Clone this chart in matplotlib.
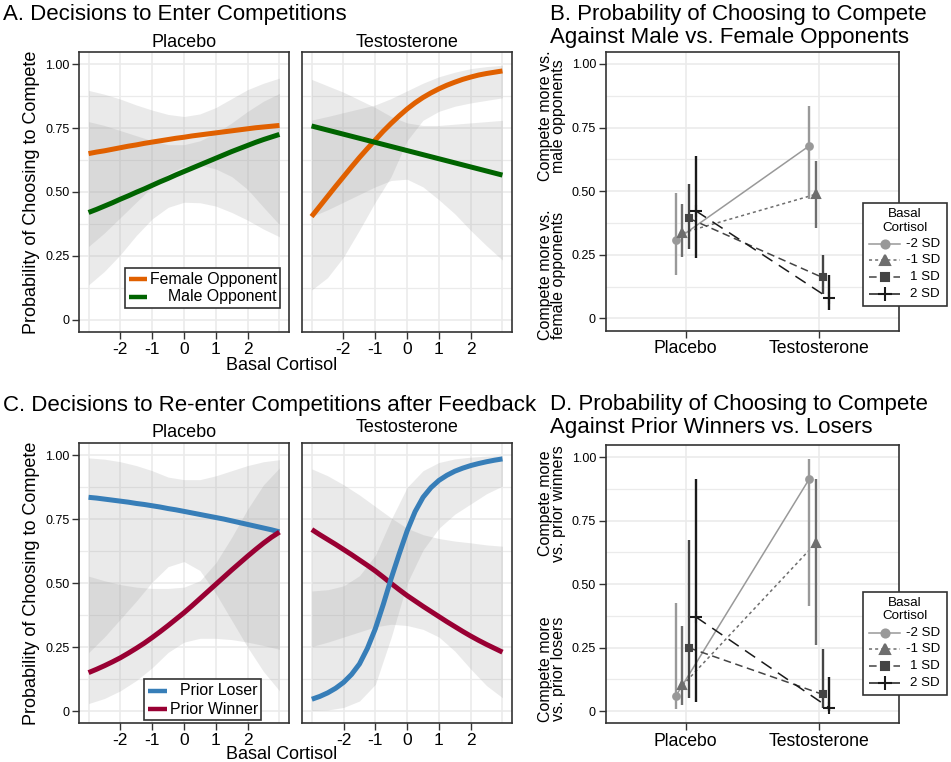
import matplotlib
matplotlib.use('Agg')
import matplotlib.pyplot as plt
import numpy as np
from matplotlib.patches import Rectangle
from matplotlib.lines import Line2D

plt.rcParams['font.family'] = ['Liberation Sans', 'DejaVu Sans']

# ---- data ----
# confidence bands are read every 0.5 SD, fitted lines every 0.25 SD
cortisol = [-3, -2.5, -2, -1.5, -1, -0.5, 0, 0.5, 1, 1.5, 2, 2.5, 3]
cortisol_fine = [-3, -2.75, -2.5, -2.25, -2, -1.75, -1.5, -1.25, -1, -0.75, -0.5, -0.25,
                 0, 0.25, 0.5, 0.75, 1, 1.25, 1.5, 1.75, 2, 2.25, 2.5, 2.75, 3]

# A, placebo
a_pla_female = [0.650, 0.656, 0.661, 0.667, 0.673, 0.679, 0.684, 0.690, 0.695, 0.700, 0.705, 0.710,
                0.714, 0.719, 0.723, 0.727, 0.731, 0.735, 0.739, 0.743, 0.747, 0.751, 0.754, 0.757, 0.760]
a_pla_female_lo = [0.287, 0.34, 0.40, 0.46, 0.52, 0.57, 0.60, 0.605, 0.59, 0.56, 0.51, 0.44, 0.372]
a_pla_female_hi = [0.897, 0.882, 0.863, 0.84, 0.82, 0.803, 0.795, 0.805, 0.83, 0.865, 0.90, 0.925, 0.945]
a_pla_male = [0.420, 0.432, 0.445, 0.458, 0.472, 0.485, 0.499, 0.512, 0.526, 0.540, 0.553, 0.567,
              0.580, 0.593, 0.606, 0.619, 0.632, 0.645, 0.658, 0.670, 0.682, 0.694, 0.705, 0.715, 0.725]
a_pla_male_lo = [0.137, 0.19, 0.255, 0.33, 0.395, 0.44, 0.46, 0.458, 0.445, 0.42, 0.39, 0.355, 0.325]
a_pla_male_hi = [0.775, 0.76, 0.74, 0.72, 0.70, 0.685, 0.685, 0.70, 0.73, 0.77, 0.815, 0.855, 0.885]

# A, testosterone
a_tes_female = [0.404, 0.443, 0.482, 0.521, 0.559, 0.597, 0.634, 0.669, 0.703, 0.737, 0.768, 0.797,
                0.824, 0.848, 0.869, 0.887, 0.903, 0.917, 0.929, 0.940, 0.949, 0.957, 0.963, 0.968, 0.973]
a_tes_female_lo = [0.117, 0.165, 0.245, 0.35, 0.46, 0.56, 0.70, 0.78, 0.815, 0.835, 0.848, 0.858, 0.868]
a_tes_female_hi = [0.781, 0.795, 0.81, 0.825, 0.84, 0.865, 0.895, 0.925, 0.95, 0.968, 0.982, 0.99, 0.995]
a_tes_male = [0.758, 0.750, 0.742, 0.734, 0.726, 0.718, 0.710, 0.702, 0.694, 0.686, 0.678, 0.670,
              0.662, 0.654, 0.646, 0.638, 0.630, 0.622, 0.614, 0.606, 0.598, 0.590, 0.582, 0.574, 0.566]
a_tes_male_lo = [0.404, 0.43, 0.46, 0.49, 0.52, 0.545, 0.55, 0.52, 0.47, 0.415, 0.35, 0.29, 0.234]
a_tes_male_hi = [0.94, 0.915, 0.89, 0.86, 0.83, 0.795, 0.77, 0.76, 0.76, 0.765, 0.77, 0.775, 0.78]

# C, placebo
c_pla_loser = [0.836, 0.833, 0.829, 0.825, 0.821, 0.817, 0.812, 0.808, 0.803, 0.798, 0.792, 0.787,
               0.781, 0.775, 0.769, 0.763, 0.757, 0.751, 0.744, 0.737, 0.730, 0.723, 0.716, 0.709, 0.701]
c_pla_loser_lo = [0.229, 0.29, 0.36, 0.43, 0.505, 0.565, 0.585, 0.55, 0.46, 0.355, 0.25, 0.155, 0.08]
c_pla_loser_hi = [0.99, 0.985, 0.975, 0.96, 0.94, 0.915, 0.905, 0.905, 0.92, 0.94, 0.96, 0.975, 0.983]
c_pla_winner = [0.151, 0.164, 0.178, 0.193, 0.209, 0.227, 0.246, 0.266, 0.288, 0.311, 0.335, 0.360,
                0.385, 0.412, 0.440, 0.468, 0.496, 0.524, 0.552, 0.579, 0.606, 0.632, 0.657, 0.680, 0.700]
c_pla_winner_lo = [0.03, 0.05, 0.08, 0.12, 0.17, 0.23, 0.27, 0.285, 0.285, 0.28, 0.27, 0.257, 0.242]
c_pla_winner_hi = [0.528, 0.51, 0.495, 0.485, 0.48, 0.48, 0.485, 0.51, 0.58, 0.68, 0.79, 0.885, 0.951]

# C, testosterone
c_tes_loser = [0.047, 0.058, 0.072, 0.090, 0.113, 0.144, 0.185, 0.246, 0.323, 0.418, 0.520, 0.615,
               0.705, 0.780, 0.836, 0.874, 0.902, 0.922, 0.938, 0.950, 0.960, 0.968, 0.975, 0.981, 0.986]
c_tes_loser_lo = [0.003, 0.005, 0.015, 0.04, 0.105, 0.29, 0.5, 0.63, 0.715, 0.77, 0.81, 0.85, 0.88]
c_tes_loser_hi = [0.47, 0.475, 0.49, 0.53, 0.61, 0.75, 0.875, 0.94, 0.972, 0.986, 0.993, 0.997, 0.999]
c_tes_winner = [0.710, 0.690, 0.671, 0.652, 0.632, 0.612, 0.591, 0.570, 0.548, 0.524, 0.499, 0.475,
                0.452, 0.431, 0.410, 0.390, 0.370, 0.350, 0.331, 0.312, 0.294, 0.277, 0.261, 0.246, 0.231]
c_tes_winner_lo = [0.253, 0.27, 0.29, 0.31, 0.33, 0.34, 0.335, 0.32, 0.29, 0.235, 0.165, 0.1, 0.053]
c_tes_winner_hi = [0.947, 0.92, 0.885, 0.845, 0.80, 0.755, 0.715, 0.69, 0.675, 0.665, 0.658, 0.65, 0.645]

# B / D, point estimates per basal cortisol level
sd_levels = ['-2 SD', '-1 SD', '1 SD', '2 SD']
conditions = ['Placebo', 'Testosterone']

b_placebo = [0.308, 0.336, 0.393, 0.423]
b_placebo_lo = [0.170, 0.240, 0.271, 0.236]
b_placebo_hi = [0.491, 0.449, 0.530, 0.639]
b_testo = [0.678, 0.488, 0.161, 0.079]
b_testo_lo = [0.471, 0.354, 0.095, 0.035]
b_testo_hi = [0.834, 0.618, 0.249, 0.170]

d_placebo = [0.059, 0.101, 0.249, 0.371]
d_placebo_lo = [0.007, 0.026, 0.053, 0.035]
d_placebo_hi = [0.426, 0.334, 0.675, 0.914]
d_testo = [0.914, 0.662, 0.066, 0.013]
d_testo_lo = [0.413, 0.262, 0.013, 0.002]
d_testo_hi = [0.994, 0.915, 0.243, 0.134]

# ---- styles ----
W, H = 951, 762
GRID = '#EBEBEB'
FRAME = '#333333'
BAND = '#999999'
ORANGE = '#E06000'
GREEN = '#006400'
BLUE = '#377EB8'
RED = '#990033'
SD_COLORS = ['#999999', '#6E6E6E', '#444444', '#1A1A1A']
SD_MARKERS = ['o', '^', 's', '+']
SD_MS = [4.8, 6.0, 4.8, 9.0]
SD_LS = ['-', (0, (2, 2)), (0, (5, 3)), (0, (8, 5))]
DODGE = [-0.075, -0.025, 0.025, 0.075]


def box(x0, y0, x1, y1):
    return [x0 / W, 1 - y1 / H, (x1 - x0) / W, (y1 - y0) / H]


def fx(x):
    return x / W


def fy(y):
    return 1 - y / H


def frame(ax):
    for s in ax.spines.values():
        s.set_color(FRAME)
        s.set_linewidth(1.2)
    ax.tick_params(direction='out', length=5, width=1.0, color=FRAME,
                   pad=2, labelcolor='black')


def facet(ax, title, pad, first):
    ax.set_xlim(-3.3, 3.3)
    ax.set_ylim(-0.047, 1.047)
    for g in range(-3, 4):
        ax.axvline(g, color=GRID, lw=1.2, zorder=0)
    for g in np.arange(0, 1.01, 0.125):
        ax.axhline(g, color=GRID, lw=1.2 if g % 0.25 == 0 else 0.9, zorder=0)
    ax.set_xticks([-2, -1, 0, 1, 2])
    ax.set_xticklabels(['-2', '-1', '0', '1', '2'], fontsize=12.5)
    if first:
        ax.set_yticks([0, 0.25, 0.5, 0.75, 1.0])
        ax.set_yticklabels(['0', '0.25', '0.50', '0.75', '1.00'], fontsize=9)
    else:
        ax.set_yticks([])
    frame(ax)
    ax.set_title(title, fontsize=13, pad=pad)


def smooth(ax, bands, lines):
    for lo, hi in bands:
        ax.fill_between(cortisol, lo, hi, color=BAND, alpha=0.2, lw=0, zorder=1)
    for vals, col in lines:
        ax.plot(cortisol_fine, vals, color=col, lw=3.6, zorder=3,
                solid_capstyle='butt', solid_joinstyle='round')


def contrast(ax, pla, pla_lo, pla_hi, tes, tes_lo, tes_hi):
    ax.set_xlim(0.4, 2.6)
    ax.set_ylim(-0.048, 1.048)
    for g in [1, 2]:
        ax.axvline(g, color=GRID, lw=1.2, zorder=0)
    for g in np.arange(0, 1.01, 0.125):
        ax.axhline(g, color=GRID, lw=1.2 if g % 0.25 == 0 else 0.9, zorder=0)
    for i in range(len(sd_levels)):
        xs = [1 + DODGE[i], 2 + DODGE[i]]
        ys = [pla[i], tes[i]]
        ax.plot(xs, ys, color=SD_COLORS[i], lw=1.1, ls=SD_LS[i], zorder=2)
        ax.vlines(xs, [pla_lo[i], tes_lo[i]], [pla_hi[i], tes_hi[i]],
                  color=SD_COLORS[i], lw=1.7, zorder=3)
        ax.plot(xs, ys, ls='none', marker=SD_MARKERS[i], ms=SD_MS[i],
                color=SD_COLORS[i], mew=1.5, zorder=4)
    ax.set_xticks([1, 2])
    ax.set_xticklabels(conditions, fontsize=12.7)
    ax.set_yticks([0, 0.25, 0.5, 0.75, 1.0])
    ax.set_yticklabels(['0', '0.25', '0.50', '0.75', '1.00'], fontsize=9)
    frame(ax)


def key_legend(x0, y0, x1, y1, entries, key_x, text_x):
    fig.add_artist(Rectangle((fx(x0), fy(y1)), (x1 - x0) / W, (y1 - y0) / H,
                             transform=fig.transFigure, facecolor='white',
                             edgecolor=FRAME, lw=1.2, zorder=5))
    for label, col, y in entries:
        fig.add_artist(Line2D([fx(key_x[0]), fx(key_x[1])], [fy(y), fy(y)],
                              transform=fig.transFigure, color=col, lw=3.2,
                              solid_capstyle='butt', zorder=6))
        fig.text(fx(text_x), fy(y), label, ha='right', va='center',
                 fontsize=11.4, zorder=7)


def sd_legend(y0, y1, title_ys, entry_ys):
    x0, x1 = 863.3, 947.3
    fig.add_artist(Rectangle((fx(x0), fy(y1)), (x1 - x0) / W, (y1 - y0) / H,
                             transform=fig.transFigure, facecolor='white',
                             edgecolor=FRAME, lw=1.2, zorder=5))
    for t, y in zip(['Basal', 'Cortisol'], title_ys):
        fig.text(fx(905), fy(y), t, ha='center', va='center', fontsize=9.6, zorder=7)
    for i, y in enumerate(entry_ys):
        fig.add_artist(Line2D([fx(869.3), fx(900)], [fy(y), fy(y)],
                              transform=fig.transFigure, color=SD_COLORS[i],
                              lw=1.1, ls=SD_LS[i], zorder=6))
        fig.add_artist(Line2D([fx(884.7)], [fy(y)], transform=fig.transFigure,
                              ls='none', marker=SD_MARKERS[i], ms=SD_MS[i] + 1,
                              color=SD_COLORS[i], mew=1.5, zorder=6))
        fig.text(fx(940), fy(y), sd_levels[i], ha='right', va='center',
                 fontsize=9.6, zorder=7)


fig = plt.figure(figsize=(W / 100, H / 100), dpi=100)

# ---- panel A ----
ax = fig.add_axes(box(79, 52, 289, 332))
facet(ax, 'Placebo', 3.8, True)
smooth(ax, [(a_pla_female_lo, a_pla_female_hi), (a_pla_male_lo, a_pla_male_hi)],
       [(a_pla_female, ORANGE), (a_pla_male, GREEN)])
ax = fig.add_axes(box(302, 52, 512, 332))
facet(ax, 'Testosterone', 3.8, False)
smooth(ax, [(a_tes_female_lo, a_tes_female_hi), (a_tes_male_lo, a_tes_male_hi)],
       [(a_tes_female, ORANGE), (a_tes_male, GREEN)])

key_legend(125, 268, 280, 308,
           [('Female Opponent', ORANGE, 279.3), ('Male Opponent', GREEN, 296.7)],
           (129, 147), 277)

fig.text(fx(3), fy(20), 'A. Decisions to Enter Competitions', fontsize=16, va='baseline')
fig.text(fx(31.5), fy(192), 'Probability of Choosing to Compete', rotation=90,
         ha='center', va='center', fontsize=13)
fig.text(fx(282), fy(370), 'Basal Cortisol', ha='center', va='baseline', fontsize=13)

# ---- panel C ----
ax = fig.add_axes(box(79, 443.3, 289, 723.3))
facet(ax, 'Placebo', 4.8, True)
smooth(ax, [(c_pla_loser_lo, c_pla_loser_hi), (c_pla_winner_lo, c_pla_winner_hi)],
       [(c_pla_loser, BLUE), (c_pla_winner, RED)])
ax = fig.add_axes(box(302.3, 443.3, 512, 723.3))
facet(ax, 'Testosterone', 8.4, False)
smooth(ax, [(c_tes_loser_lo, c_tes_loser_hi), (c_tes_winner_lo, c_tes_winner_hi)],
       [(c_tes_winner, RED), (c_tes_loser, BLUE)])

key_legend(144, 679.3, 260.7, 720,
           [('Prior Loser', BLUE, 690.7), ('Prior Winner', RED, 709)],
           (148, 167), 258)

fig.text(fx(3), fy(410.7), 'C. Decisions to Re-enter Competitions after Feedback',
         fontsize=16, va='baseline')
fig.text(fx(31.5), fy(583), 'Probability of Choosing to Compete', rotation=90,
         ha='center', va='center', fontsize=13)
fig.text(fx(282), fy(759), 'Basal Cortisol', ha='center', va='baseline', fontsize=13)

# ---- panel B ----
ax = fig.add_axes(box(605.7, 51.7, 899.3, 330.7))
contrast(ax, b_placebo, b_placebo_lo, b_placebo_hi, b_testo, b_testo_lo, b_testo_hi)
fig.text(fx(550), fy(20), 'B. Probability of Choosing to Compete', fontsize=16, va='baseline')
fig.text(fx(550), fy(42.7), 'Against Male vs. Female Opponents', fontsize=16, va='baseline')
fig.text(fx(552), fy(116), 'Compete more vs.\nmale opponents', rotation=90,
         ha='center', va='center', fontsize=11.5, linespacing=0.85)
fig.text(fx(552), fy(275), 'Compete more vs.\nfemale opponents', rotation=90,
         ha='center', va='center', fontsize=11.5, linespacing=0.85)
sd_legend(203.3, 306, [214.3, 227.7], [244, 260.3, 277, 294])

# ---- panel D ----
ax = fig.add_axes(box(605.7, 445, 899.3, 723.3))
contrast(ax, d_placebo, d_placebo_lo, d_placebo_hi, d_testo, d_testo_lo, d_testo_hi)
fig.text(fx(550), fy(410), 'D. Probability of Choosing to Compete', fontsize=16, va='baseline')
fig.text(fx(550), fy(433.3), 'Against Prior Winners vs. Losers', fontsize=16, va='baseline')
fig.text(fx(552), fy(503.3), 'Compete more\nvs. prior winners', rotation=90,
         ha='center', va='center', fontsize=11.5, linespacing=0.85)
fig.text(fx(552), fy(669), 'Compete more\nvs. prior losers', rotation=90,
         ha='center', va='center', fontsize=11.5, linespacing=0.85)
sd_legend(592.3, 695, [603.3, 616], [632.7, 649.3, 666, 682.7])

fig.savefig('out.png', dpi=100)
